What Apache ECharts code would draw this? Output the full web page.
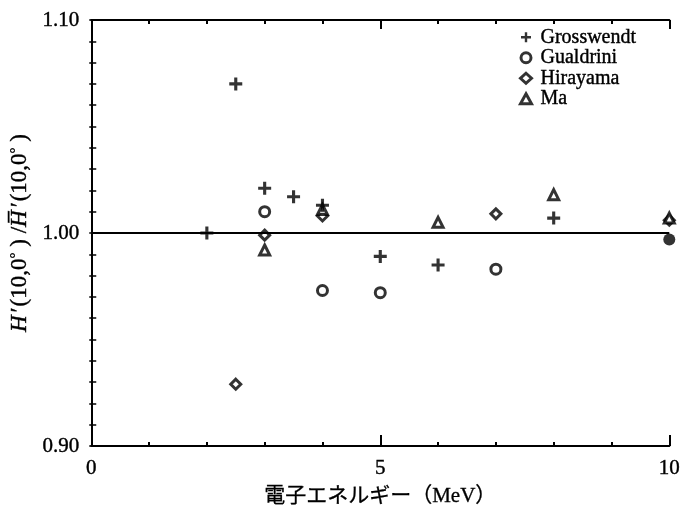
<!DOCTYPE html>
<html>
<head>
<meta charset="utf-8">
<script src="https://cdn.jsdelivr.net/npm/echarts@6/dist/echarts.min.js"></script>
<style>
  html, body { margin: 0; padding: 0; background: #fff; }
  #chart { width: 683px; height: 518px; }
</style>
</head>
<body>
<div id="chart"></div>
<script>
// H'(10,0°) ratio against electron energy, four data sets
const grosswendt = [[2.0, 1.000], [2.5, 1.070], [3.0, 1.021], [3.5, 1.017], [4.0, 1.013], [5.0, 0.989], [6.0, 0.985], [8.0, 1.007]];
const gualdrini  = [[3.0, 1.010], [4.0, 0.973], [5.0, 0.972], [7.0, 0.983]];
const hirayama   = [[2.5, 0.929], [3.0, 0.999], [4.0, 1.008], [7.0, 1.009], [10.0, 1.006]];
const ma         = [[3.0, 0.992], [4.0, 1.011], [6.0, 1.005], [8.0, 1.018], [10.0, 1.007]];
const filledPoint = [[10.0, 0.997]];
const referenceLevel = 1.00;

const xMajorTicks = [0, 5, 10];
const xMinorTicks = [1, 2, 3, 4, 6, 7, 8, 9];
const yMin = 0.90, yMax = 1.10, yStep = 0.10;

const serif = '"Liberation Serif", "DejaVu Serif", serif';
const black = '#000';
const plusPath = 'path://M3.8,0H6.2V3.8H10V6.2H6.2V10H3.8V6.2H0V3.8H3.8Z';
const heavy = { textBorderColor: black, textBorderWidth: 0.4 };

const chart = echarts.init(document.getElementById('chart'), null, { renderer: 'canvas' });

const baseX = { type: 'value', min: 0, max: 10, gridIndex: 0, splitLine: { show: false } };
const outlined = { color: '#fff', borderColor: black, borderWidth: 3 };

chart.setOption({
  animation: false,
  backgroundColor: '#fff',
  grid: { left: 89, right: 6, top: 20, bottom: 72, containLabel: false },
  legend: {
    orient: 'vertical',
    left: 514,
    top: 22,
    itemWidth: 11,
    itemHeight: 10,
    itemGap: 0,
    textStyle: Object.assign({ fontFamily: serif, fontSize: 20, lineHeight: 20.5, color: black, padding: [0, 0, 0, 4] }, heavy),
    data: [
      { name: 'Grosswendt' },
      { name: 'Gualdrini', itemStyle: { borderWidth: 3 } },
      { name: 'Hirayama', itemStyle: { borderWidth: 3 } },
      { name: 'Ma', itemStyle: { borderWidth: 3 } }
    ]
  },
  xAxis: [
    Object.assign({}, baseX, {
      position: 'bottom',
      axisLine: { show: true, lineStyle: { color: black, width: 2 } },
      axisTick: { show: true, inside: true, length: 11, customValues: xMajorTicks, lineStyle: { color: black, width: 2 } },
      axisLabel: Object.assign({ show: true, customValues: xMajorTicks, margin: 12, fontFamily: serif, fontSize: 21, color: black }, heavy),
      name: '電子エネルギー（MeV）',
      nameLocation: 'middle',
      nameGap: 40,
      nameTextStyle: { fontFamily: '"Liberation Serif", "Noto Sans CJK JP", serif', fontSize: 21, color: black, textBorderColor: black, textBorderWidth: 0.3 }
    }),
    Object.assign({}, baseX, {
      position: 'bottom',
      axisLine: { show: false },
      axisTick: { show: true, inside: true, length: 4, customValues: xMinorTicks, lineStyle: { color: black, width: 2 } },
      axisLabel: { show: false }
    }),
    Object.assign({}, baseX, {
      position: 'top',
      axisLine: { show: true, lineStyle: { color: black, width: 2 } },
      axisTick: { show: true, inside: true, length: 9, customValues: xMajorTicks, lineStyle: { color: black, width: 2 } },
      axisLabel: { show: false }
    }),
    Object.assign({}, baseX, {
      position: 'top',
      axisLine: { show: false },
      axisTick: { show: true, inside: true, length: 4, customValues: xMinorTicks, lineStyle: { color: black, width: 2 } },
      axisLabel: { show: false }
    })
  ],
  yAxis: [
    {
      type: 'value', min: yMin, max: yMax, interval: yStep, position: 'left',
      splitLine: { show: false },
      axisLine: { show: true, lineStyle: { color: black, width: 2 } },
      axisTick: { show: true, inside: true, length: 10, lineStyle: { color: black, width: 2 } },
      minorTick: { show: true, splitNumber: 10, length: 5, lineStyle: { color: black, width: 1.5 } },
      axisLabel: Object.assign({
        margin: 12, fontFamily: serif, fontSize: 21, color: black,
        formatter: v => v.toFixed(2)
      }, heavy),
      name: '{i|H}{p|′}(10,0{s|°} ) /{i|H̅}{p|′}(10,0{s|°} )',
      nameLocation: 'middle',
      nameGap: 53,
      nameRotate: 90,
      nameTextStyle: {
        fontFamily: serif, fontSize: 23, color: black, textBorderColor: black, textBorderWidth: 0.4,
        rich: {
          i: { fontFamily: serif, fontSize: 23, fontStyle: 'italic', color: black, textBorderColor: black, textBorderWidth: 0.4 },
          p: { fontFamily: serif, fontSize: 23, color: black, padding: [0, 1, 0, 3], textBorderColor: black, textBorderWidth: 0.4 },
          s: { fontFamily: serif, fontSize: 15, color: black, verticalAlign: 'top', padding: [0, 0, 8, 0], textBorderColor: black, textBorderWidth: 0.3 }
        }
      }
    },
    {
      type: 'value', min: yMin, max: yMax, interval: yStep, position: 'right', offset: 8,
      splitLine: { show: false },
      axisLine: { show: false },
      axisTick: { show: true, inside: true, length: 2, lineStyle: { color: black, width: 1.5 } },
      minorTick: { show: true, splitNumber: 10, length: 2, lineStyle: { color: black, width: 1.5 } },
      axisLabel: { show: false }
    }
  ],
  series: [
    {
      name: 'Grosswendt', type: 'scatter', data: grosswendt,
      symbol: plusPath, symbolSize: 13,
      itemStyle: { color: black },
      markLine: {
        silent: true, symbol: 'none', label: { show: false },
        lineStyle: { color: black, width: 2, type: 'solid' },
        data: [{ yAxis: referenceLevel }]
      },
      z: 5
    },
    {
      name: 'Gualdrini', type: 'scatter', data: gualdrini,
      symbol: 'circle', symbolSize: 10,
      itemStyle: outlined,
      z: 4
    },
    {
      name: 'Hirayama', type: 'scatter', data: hirayama,
      symbol: 'diamond', symbolSize: 10,
      itemStyle: outlined,
      z: 4
    },
    {
      name: 'Ma', type: 'scatter', data: ma,
      symbol: 'triangle', symbolSize: 10,
      itemStyle: outlined,
      z: 4
    },
    {
      name: 'filled', type: 'scatter', data: filledPoint,
      symbol: 'circle', symbolSize: 12,
      itemStyle: { color: black },
      z: 4
    }
  ]
});
</script>
</body>
</html>
